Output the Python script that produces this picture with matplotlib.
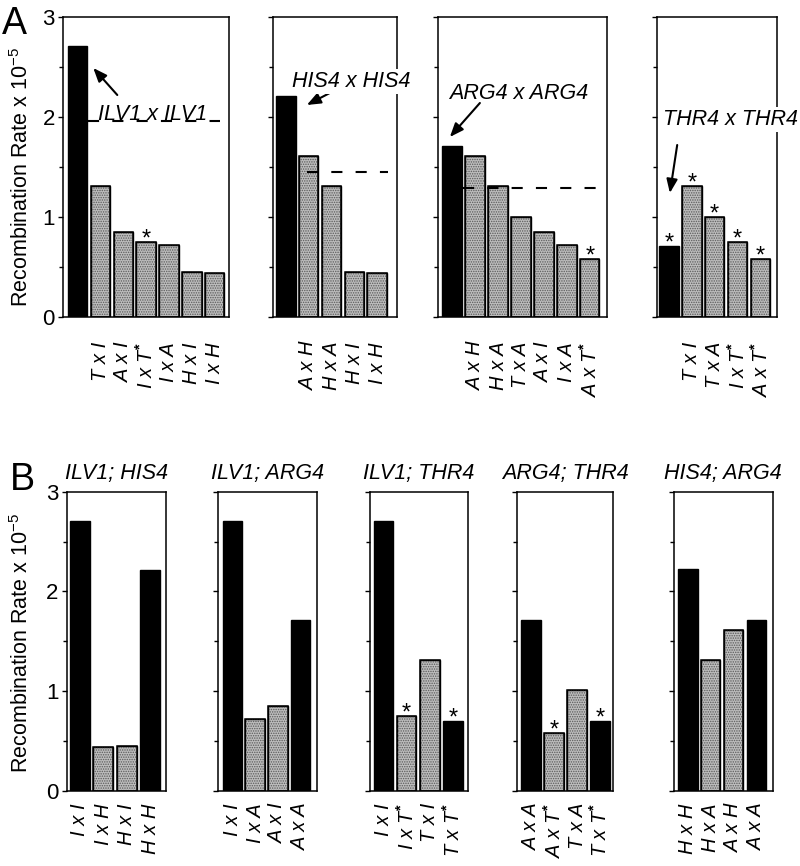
import matplotlib
matplotlib.use("Agg")
import matplotlib.pyplot as plt
from matplotlib.ticker import FixedLocator

plt.rcParams['font.family'] = ['Liberation Sans', 'DejaVu Sans']
plt.rcParams['mathtext.fontset'] = 'custom'
plt.rcParams['mathtext.rm'] = 'Liberation Sans'
plt.rcParams['mathtext.it'] = 'Liberation Sans:italic'
plt.rcParams['mathtext.bf'] = 'Liberation Sans:bold'
plt.rcParams['lines.scale_dashes'] = False
plt.rcParams['hatch.linewidth'] = 0.7

STAR = r'$^{\mathbf{*}}$'

# ---------------- data: panel A ----------------
a_ilv_labels = ['', 'T x I', 'A x I', 'I x T' + STAR, 'I x A', 'H x I', 'I x H']
a_ilv_values = [2.71, 1.31, 0.85, 0.75, 0.72, 0.45, 0.44]
a_ilv_black = [1, 0, 0, 0, 0, 0, 0]
a_ilv_stars = [0, 0, 0, 1, 0, 0, 0]
a_ilv_mean = 1.96

a_his_labels = ['', 'A x H', 'H x A', 'H x I', 'I x H']
a_his_values = [2.21, 1.61, 1.31, 0.45, 0.44]
a_his_black = [1, 0, 0, 0, 0]
a_his_stars = [0, 0, 0, 0, 0]
a_his_mean = 1.45

a_arg_labels = ['', 'A x H', 'H x A', 'T x A', 'A x I', 'I x A', 'A x T' + STAR]
a_arg_values = [1.71, 1.61, 1.31, 1.00, 0.85, 0.72, 0.58]
a_arg_black = [1, 0, 0, 0, 0, 0, 0]
a_arg_stars = [0, 0, 0, 0, 0, 0, 1]
a_arg_mean = 1.29

a_thr_labels = ['', 'T x I', 'T x A', 'I x T' + STAR, 'A x T' + STAR]
a_thr_values = [0.71, 1.31, 1.00, 0.75, 0.58]
a_thr_black = [1, 0, 0, 0, 0]
a_thr_stars = [1, 1, 1, 1, 1]

a_titles = ['ILV1 x ILV1', 'HIS4 x HIS4', 'ARG4 x ARG4', 'THR4 x THR4']

# ---------------- data: panel B ----------------
b_titles = ['ILV1; HIS4', 'ILV1; ARG4', 'ILV1; THR4', 'ARG4; THR4', 'HIS4; ARG4']
b_labels = [
    ['I x I', 'I x H', 'H x I', 'H x H'],
    ['I x I', 'I x A', 'A x I', 'A x A'],
    ['I x I', 'I x T' + STAR, 'T x I', 'T x T' + STAR],
    ['A x A', 'A x T' + STAR, 'T x A', 'T x T' + STAR],
    ['H x H', 'H x A', 'A x H', 'A x A'],
]
b_values = [
    [2.71, 0.44, 0.45, 2.21],
    [2.71, 0.72, 0.85, 1.71],
    [2.71, 0.75, 1.31, 0.70],
    [1.71, 0.58, 1.01, 0.70],
    [2.22, 1.31, 1.61, 1.71],
]
b_black = [
    [1, 0, 0, 1],
    [1, 0, 0, 1],
    [1, 0, 0, 1],
    [1, 0, 0, 1],
    [1, 0, 0, 1],
]
b_stars = [
    [0, 0, 0, 0],
    [0, 0, 0, 0],
    [0, 1, 0, 1],
    [0, 1, 0, 1],
    [0, 0, 0, 0],
]

W, H = 800, 866
fig = plt.figure(figsize=(W / 100, H / 100), dpi=100)


def add_ax(x0, x1, y0, y1):
    return fig.add_axes([x0 / W, (H - y1) / H, (x1 - x0) / W, (y1 - y0) / H])


GRAY = '#bdbdbd'


def draw_panel(ax, labels, values, black, stars, xlim, first, pad):
    x = list(range(len(values)))
    faces = ['black' if b else GRAY for b in black]
    ax.bar(x, values, width=0.85, color=faces, edgecolor='black', linewidth=1.0, zorder=2)
    gx = [i for i in x if not black[i]]
    gv = [values[i] for i in gx]
    if gx:
        ax.bar(gx, gv, width=0.80, fill=False, edgecolor='#5a5a5a', linewidth=0,
               hatch='.......', zorder=2.1)
        ax.bar(gx, gv, width=0.85, fill=False, edgecolor='black', linewidth=1.1, zorder=2.2)
    for i in x:
        if stars[i]:
            ax.annotate('*', (i, values[i]), xytext=(0, -2.5), textcoords='offset points',
                        ha='center', va='baseline', fontsize=17, zorder=4)
    ax.set_xlim(*xlim)
    ax.set_ylim(0, 3)
    ax.set_xticks(x)
    ax.set_xticklabels(labels, rotation=90, fontstyle='italic', fontsize=14.5)
    ax.tick_params(axis='x', length=0, pad=pad)
    ax.yaxis.set_major_locator(FixedLocator([0, 1, 2, 3]))
    ax.yaxis.set_minor_locator(FixedLocator([0.5, 1.5, 2.5]))
    ax.tick_params(axis='y', which='major', length=3.8, width=1.0, direction='out', labelsize=16, pad=2)
    ax.tick_params(axis='y', which='minor', length=2.6, width=1.0, direction='out')
    if first:
        ax.set_yticklabels(['0', '1', '2', '3'])
    else:
        ax.set_yticklabels([])
    for s in ax.spines.values():
        s.set_linewidth(1.1)


# ---------------- panel A ----------------
ay0, ay1 = 17, 317
axA = [add_ax(63, 229, ay0, ay1), add_ax(272.7, 396.7, ay0, ay1),
       add_ax(437.7, 606.7, ay0, ay1), add_ax(657.3, 776.7, ay0, ay1)]
a_sets = [
    (a_ilv_labels, a_ilv_values, a_ilv_black, a_ilv_stars, (-0.634, 6.625)),
    (a_his_labels, a_his_values, a_his_black, a_his_stars, (-0.575, 4.86)),
    (a_arg_labels, a_arg_values, a_arg_black, a_arg_stars, (-0.63, 6.74)),
    (a_thr_labels, a_thr_values, a_thr_black, a_thr_stars, (-0.51, 4.71)),
]
for k, (ax, (lab, val, blk, st, xl)) in enumerate(zip(axA, a_sets)):
    draw_panel(ax, lab, val, blk, st, xl, k == 0, pad=18)

dash = dict(color='black', lw=1.5, linestyle=(0, (8, 9.5)), zorder=3)
axA[0].plot([0.45, 6.25], [a_ilv_mean] * 2, **dash)
axA[1].plot([0.92, 4.48], [a_his_mean] * 2, **dash)
axA[2].plot([0.47, 6.65], [a_arg_mean] * 2, **dash)

arrow = dict(arrowstyle='-|>,head_length=0.55,head_width=0.22', lw=1.5, color='black',
             shrinkA=0, shrinkB=0, mutation_scale=15)
tfont = dict(fontsize=15.5, fontstyle='italic', clip_on=False, zorder=5)
axA[0].text(0.9, 1.975, a_titles[0], ha='left', va='baseline', **tfont)
axA[0].annotate('', xy=(0.69, 2.49), xytext=(1.74, 2.22), arrowprops=arrow)

axA[1].text(0.26, 2.30, a_titles[1], ha='left', va='baseline',
            bbox=dict(fc='white', ec='none', pad=1.5), **tfont)
axA[1].annotate('', xy=(0.92, 2.12), xytext=(2.01, 2.25), arrowprops=arrow)

axA[2].text(-0.13, 2.18, a_titles[2], ha='left', va='baseline', **tfont)
axA[2].annotate('', xy=(-0.10, 1.80), xytext=(1.21, 2.14), arrowprops=arrow)

axA[3].text(-0.25, 1.92, a_titles[3], ha='left', va='baseline',
            bbox=dict(fc='white', ec='none', pad=1.5), **tfont)
axA[3].annotate('', xy=(0.04, 1.24), xytext=(0.36, 1.72), arrowprops=arrow)

# ---------------- panel B ----------------
by0, by1 = 491.7, 790.7
b_pos = [(66.7, 165.7), (218.3, 316.7), (370, 468.3), (517.3, 613.3), (674, 772.7)]
b_xlims = [(-0.556, 3.67), (-0.61, 3.70), (-0.59, 3.67), (-0.60, 3.57), (-0.61, 3.72)]
for k in range(5):
    ax = add_ax(b_pos[k][0], b_pos[k][1], by0, by1)
    draw_panel(ax, b_labels[k], b_values[k], b_black[k], b_stars[k], b_xlims[k], k == 0, pad=9)
    ax.set_title(b_titles[k], fontsize=15.5, fontstyle='italic', pad=9)

ylab = r'Recombination Rate x 10$^{\mathrm{-5}}$'
fig.text(22 / W, 1 - 177 / H, ylab, rotation=90, ha='center', va='center', fontsize=15.5)
fig.text(22 / W, 1 - 643 / H, ylab, rotation=90, ha='center', va='center', fontsize=15.5)

fig.text(2 / W, 1 - 34 / H, 'A', fontsize=27, ha='left', va='baseline')
fig.text(10 / W, 1 - 490 / H, 'B', fontsize=27, ha='left', va='baseline')

fig.savefig('out.png', dpi=100)
